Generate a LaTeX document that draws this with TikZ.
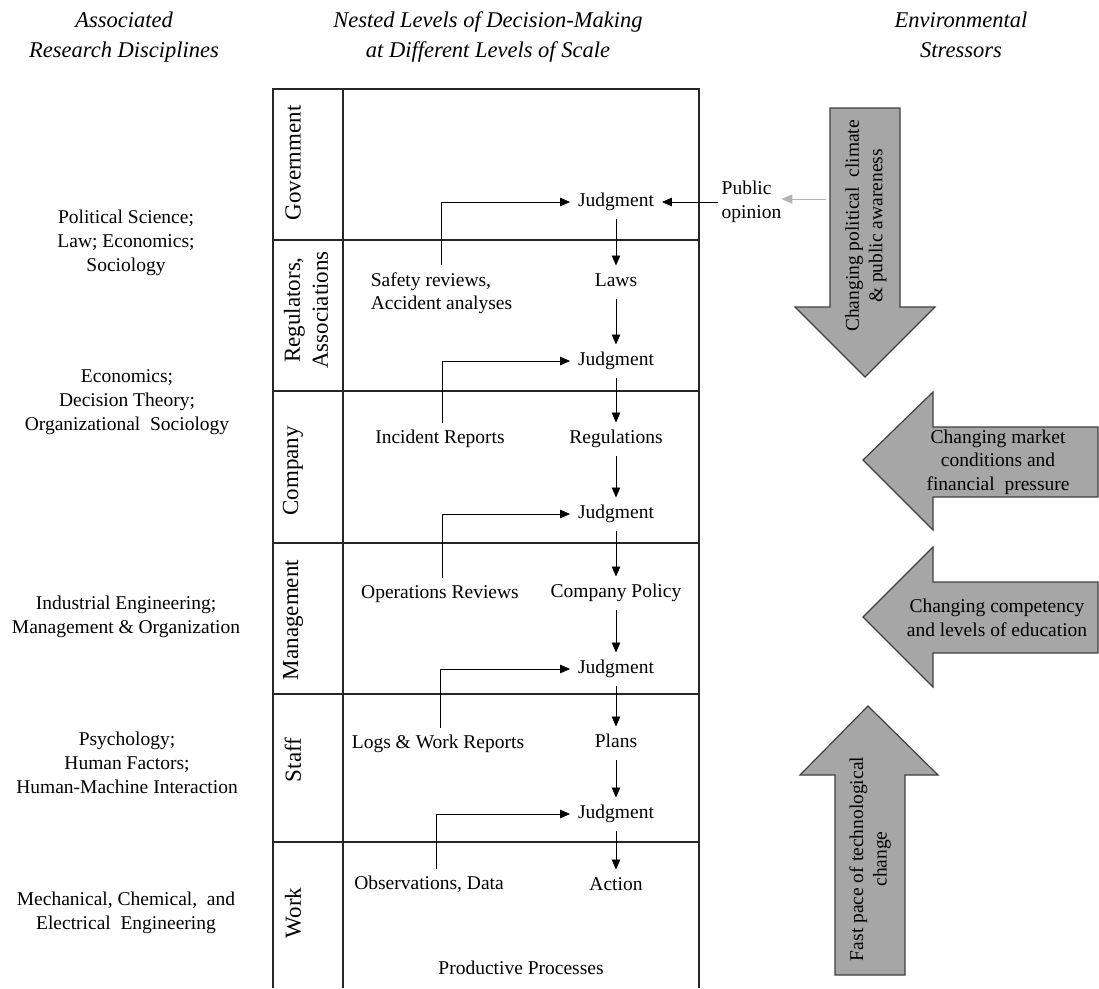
\documentclass[tikz,border=0pt]{standalone}
\usepackage{fontspec}
\setmainfont{Liberation Serif}
\usetikzlibrary{arrows.meta}
\definecolor{stressgray}{RGB}{166,166,166}
\definecolor{hintgray}{RGB}{180,180,180}
\begin{document}
\begin{tikzpicture}[x=1pt,y=-1pt,
  every node/.style={inner sep=0pt, outer sep=0pt},
  hdr/.style={font=\fontsize{22.5}{30}\selectfont\itshape, align=center},
  disc/.style={font=\fontsize{19.5}{24}\selectfont, align=center},
  lvl/.style={font=\fontsize{23}{28}\selectfont, align=center, rotate=90},
  entry/.style={font=\fontsize{19.5}{23}\selectfont, text height=13pt, text depth=4pt, outer sep=8pt},
  gridline/.style={line width=1.1pt, draw=black!85},
  flow/.style={-{Triangle[length=10pt,width=8.5pt]}, line width=0.9pt},
  hintflow/.style={-{Triangle[length=11pt,width=9pt]}, line width=1pt, draw=hintgray, fill=hintgray},
  stress/.style={fill=stressgray, draw=black!75, line width=1.2pt, line join=miter},
  stresstext/.style={font=\fontsize{19.5}{23.5}\selectfont, align=center}
]
\useasboundingbox (0,0) rectangle (1099,988);

% column headings
\node[hdr] (h1) at (124,37) {Associated\\Research Disciplines};
\node[hdr] (h2) at (488,37) {Nested Levels of Decision-Making\\at Different Levels of Scale};
\node[hdr] (h3) at (961,35) {Environmental\\Stressors};

% research disciplines
\node[disc] (d1) at (126,243) {Political Science;\\Law; Economics;\\Sociology};
\node[disc] (d2) at (127,402) {Economics;\\Decision Theory;\\Organizational\ \ Sociology};
\node[disc] (d3) at (126,617) {Industrial Engineering;\\Management \& Organization};
\node[disc] (d4) at (127,763) {Psychology;\\Human Factors;\\Human-Machine Interaction};
\node[disc] (d5) at (126,913) {Mechanical, Chemical,\ \ and\\Electrical\ \ Engineering};

% level table
\draw[gridline] (273,988) -- (273,89) -- (699,89) -- (699,988);
\draw[gridline] (343,89) -- (343,988);
\foreach \yy in {240,391,543,694,842}
  \draw[gridline] (273,\yy) -- (699,\yy);

\node[lvl] (gov) at (293,163) {Government};
\node[lvl] (reg) at (306,310) {Regulators,\\Associations};
\node[lvl] (com) at (293,471) {Company};
\node[lvl] (man) at (293,620) {Management};
\node[lvl] (sta) at (293,760) {Staff};
\node[lvl] (wor) at (293,913) {Work};

% decision chain
\node[entry] (j1) at (616,202) {Judgment};
\node[entry] (laws) at (616,282) {Laws};
\node[entry] (j2) at (616,361) {Judgment};
\node[entry] (regs) at (616,439) {Regulations};
\node[entry] (j3) at (616,514) {Judgment};
\node[entry] (pol) at (616,593) {Company Policy};
\node[entry] (j4) at (616,669) {Judgment};
\node[entry] (plans) at (616,743) {Plans};
\node[entry] (j5) at (616,814) {Judgment};
\node[entry] (act) at (616,886) {Action};

% feedback sources
\node[entry, align=left, text height=36pt] (saf) at (441.5,293) {Safety reviews,\\Accident analyses};
\node[entry] (inc) at (440,439) {Incident Reports};
\node[entry] (ops) at (440,594) {Operations Reviews};
\node[entry] (logs) at (438,744) {Logs \& Work Reports};
\node[entry] (obs) at (429,885) {Observations, Data};
\node[font=\fontsize{19.5}{23}\selectfont] (prod) at (521,968) {Productive Processes};

\draw[flow] (j1) -- (laws);
\draw[flow] (laws) -- (j2);
\draw[flow] (j2) -- (regs);
\draw[flow] (regs) -- (j3);
\draw[flow] (j3) -- (pol);
\draw[flow] (pol) -- (j4);
\draw[flow] (j4) -- (plans);
\draw[flow] (plans) -- (j5);
\draw[flow] (j5) -- (act);

\draw[flow] (saf.north) |- (j1.west);
\draw[flow] ([xshift=2pt]inc.north) |- (j2.west);
\draw[flow] ([xshift=2pt]ops.north) |- (j3.west);
\draw[flow] ([xshift=2pt]logs.north) |- (j4.west);
\draw[flow] ([xshift=7pt]obs.north) |- (j5.west);

% public opinion
\node[font=\fontsize{19.5}{24}\selectfont, align=left, text height=37pt, text depth=4pt] (pub) at (751.5,202) {Public\\opinion};
\draw[flow, shorten <=4pt] (pub.west |- j1) -- (j1.east);
\coordinate (pin) at (826,199);
\draw[hintflow] (pin) -- (pin -| pub.east);

% environmental stressors
\draw[stress] (830,108) -- (900,108) -- (900,307) -- (935,307) -- (865,377)
  -- (795,307) -- (830,307) -- cycle;
\node[stresstext, rotate=90] (s1) at (866,226) {Changing political\ \ climate\\\& public awareness};

\draw[stress] (1098,427) -- (933,427) -- (933,392) -- (863,460) -- (933,530)
  -- (933,497) -- (1098,497) -- cycle;
\node[stresstext] (s2) at (998,462) {Changing market\\conditions and\\financial\ \ pressure};

\draw[stress] (1098,582) -- (933,582) -- (933,547) -- (863,617) -- (933,687)
  -- (933,653) -- (1098,653) -- cycle;
\node[stresstext] (s3) at (997,618) {Changing competency\\and levels of education};

\draw[stress] (868,706) -- (938,775) -- (905,775) -- (905,975) -- (835,975)
  -- (835,775) -- (800,775) -- cycle;
\node[stresstext, rotate=90] (s4) at (870,859) {Fast pace of technological\\change};
\end{tikzpicture}
\end{document}
